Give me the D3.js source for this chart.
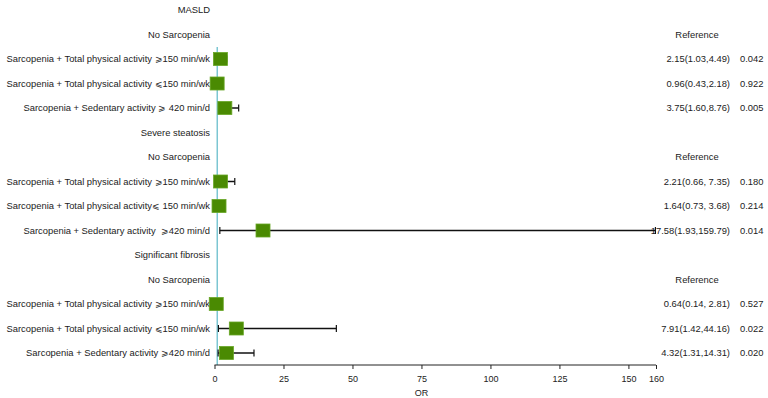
<!DOCTYPE html>
<html lang="en">
<head>
    <meta charset="UTF-8">
    <title>Forest plot</title>
    <script src="https://d3js.org/d3.v7.min.js"></script>
    <style>
        body { margin: 0; background: #fff; }
        text { font-family: "Liberation Sans", Arial, sans-serif; fill: #222; white-space: pre; }
    </style>
</head>
<body>
<script>
    const width = 768;
    const height = 398;
    const fs = "9.4px";

    // rows top to bottom; header rows have null values
    const labels = [
        "MASLD",
        "No Sarcopenia",
        "Sarcopenia + Total physical activity \u2A7E150 min/wk",
        "Sarcopenia + Total physical activity \u2A7D150 min/wk",
        "Sarcopenia + Sedentary activity \u2A7E 420 min/d",
        "Severe steatosis",
        "No Sarcopenia",
        "Sarcopenia + Total physical activity \u2A7E150 min/wk",
        "Sarcopenia + Total physical activity\u2A7D 150 min/wk",
        "Sarcopenia + Sedentary activity  \u2A7E420 min/d",
        "Significant fibrosis",
        "No Sarcopenia",
        "Sarcopenia + Total physical activity \u2A7E150 min/wk",
        "Sarcopenia + Total physical activity \u2A7D150 min/wk",
        "Sarcopenia + Sedentary activity \u2A7E420 min/d"
    ];
    const orValues = [null, null, 2.15, 0.96, 3.75, null, null, 2.21, 1.64, 17.58, null, null, 0.64, 7.91, 4.32];
    const lowerCI  = [null, null, 1.03, 0.43, 1.60, null, null, 0.66, 0.73, 1.93, null, null, 0.14, 1.42, 1.31];
    const upperCI  = [null, null, 4.49, 2.18, 8.76, null, null, 7.35, 3.68, 159.79, null, null, 2.81, 44.16, 14.31];
    const orText = ["", "Reference", "2.15(1.03,4.49)", "0.96(0.43,2.18)", "3.75(1.60,8.76)",
                    "", "Reference", "2.21(0.66, 7.35)", "1.64(0.73, 3.68)", "17.58(1.93,159.79)",
                    "", "Reference", "0.64(0.14, 2.81)", "7.91(1.42,44.16)", "4.32(1.31,14.31)"];
    const pText = ["", "", "0.042", "0.922", "0.005", "", "", "0.180", "0.214", "0.014", "", "", "0.527", "0.022", "0.020"];
    const ticks = [0, 25, 50, 75, 100, 125, 150, 160];

    const svg = d3.select("body").append("svg")
            .attr("width", width).attr("height", height);

    const x = d3.scaleLinear().domain([0, 160]).range([214.5, 656]);
    const y = d3.scalePoint().domain(d3.range(labels.length)).range([10, 353]);

    const rows = labels.map((l, i) => ({
        i: i, label: l, or: orValues[i], lo: lowerCI[i], hi: upperCI[i], ort: orText[i], p: pText[i]
    }));

    // reference line at OR = 1
    svg.append("line")
            .attr("x1", x(1)).attr("x2", x(1))
            .attr("y1", y(2) - 12).attr("y2", 365)
            .style("stroke", "#7cc6d2")
            .style("stroke-width", 1.5);

    // left labels
    svg.selectAll("text.label")
            .data(rows)
            .enter().append("text")
            .attr("class", "label")
            .attr("x", 210)
            .attr("y", d => y(d.i))
            .attr("dy", "0.35em")
            .attr("text-anchor", "end")
            .style("font-size", fs)
            .text(d => d.label);

    // OR text column
    svg.selectAll("text.ort")
            .data(rows.filter(d => d.ort))
            .enter().append("text")
            .attr("class", "ort")
            .attr("x", d => d.or == null ? 697 : 730)
            .attr("y", d => y(d.i))
            .attr("dy", "0.35em")
            .attr("text-anchor", d => d.or == null ? "middle" : "end")
            .style("font-size", fs)
            .text(d => d.ort);

    svg.selectAll("text.p")
            .data(rows.filter(d => d.p))
            .enter().append("text")
            .attr("class", "p")
            .attr("x", 740)
            .attr("y", d => y(d.i))
            .attr("dy", "0.35em")
            .style("font-size", fs)
            .text(d => d.p);

    const est = svg.selectAll("g.est")
            .data(rows.filter(d => d.or != null))
            .enter().append("g")
            .attr("class", "est");

    est.append("line")
            .attr("x1", d => x(d.lo)).attr("x2", d => x(d.hi))
            .attr("y1", d => y(d.i)).attr("y2", d => y(d.i))
            .style("stroke", "#111").style("stroke-width", 1.5);
    est.append("line")
            .attr("x1", d => x(d.lo)).attr("x2", d => x(d.lo))
            .attr("y1", d => y(d.i) - 3.5).attr("y2", d => y(d.i) + 3.5)
            .style("stroke", "#111").style("stroke-width", 1.2);
    est.append("line")
            .attr("x1", d => x(d.hi)).attr("x2", d => x(d.hi))
            .attr("y1", d => y(d.i) - 3.5).attr("y2", d => y(d.i) + 3.5)
            .style("stroke", "#111").style("stroke-width", 1.2);
    est.append("rect")
            .attr("x", d => x(d.or) - 7)
            .attr("y", d => y(d.i) - 6.5)
            .attr("width", 14).attr("height", 13)
            .style("fill", "#4a8a02")
            .style("stroke", "#68a626")
            .style("stroke-width", 0.8);

    // x axis
    const axis = svg.append("g")
            .attr("transform", "translate(0,365)")
            .call(d3.axisBottom(x).tickValues(ticks).tickSize(4).tickPadding(7).tickFormat(d3.format("d")));
    axis.select(".domain").style("stroke", "#222").attr("d", `M${x(0)},0H${x(160)}`);
    axis.selectAll(".tick line").style("stroke", "#222").attr("y1", 0).attr("y2", 4);
    axis.selectAll(".tick text").style("font-size", "9px").style("font-family", "Liberation Sans, Arial, sans-serif").style("fill", "#222");

    svg.append("text")
            .attr("x", x(75))
            .attr("y", 393)
            .attr("dy", "0.35em")
            .attr("text-anchor", "middle")
            .style("font-size", "9px")
            .text("OR");
</script>
</body>
</html>
